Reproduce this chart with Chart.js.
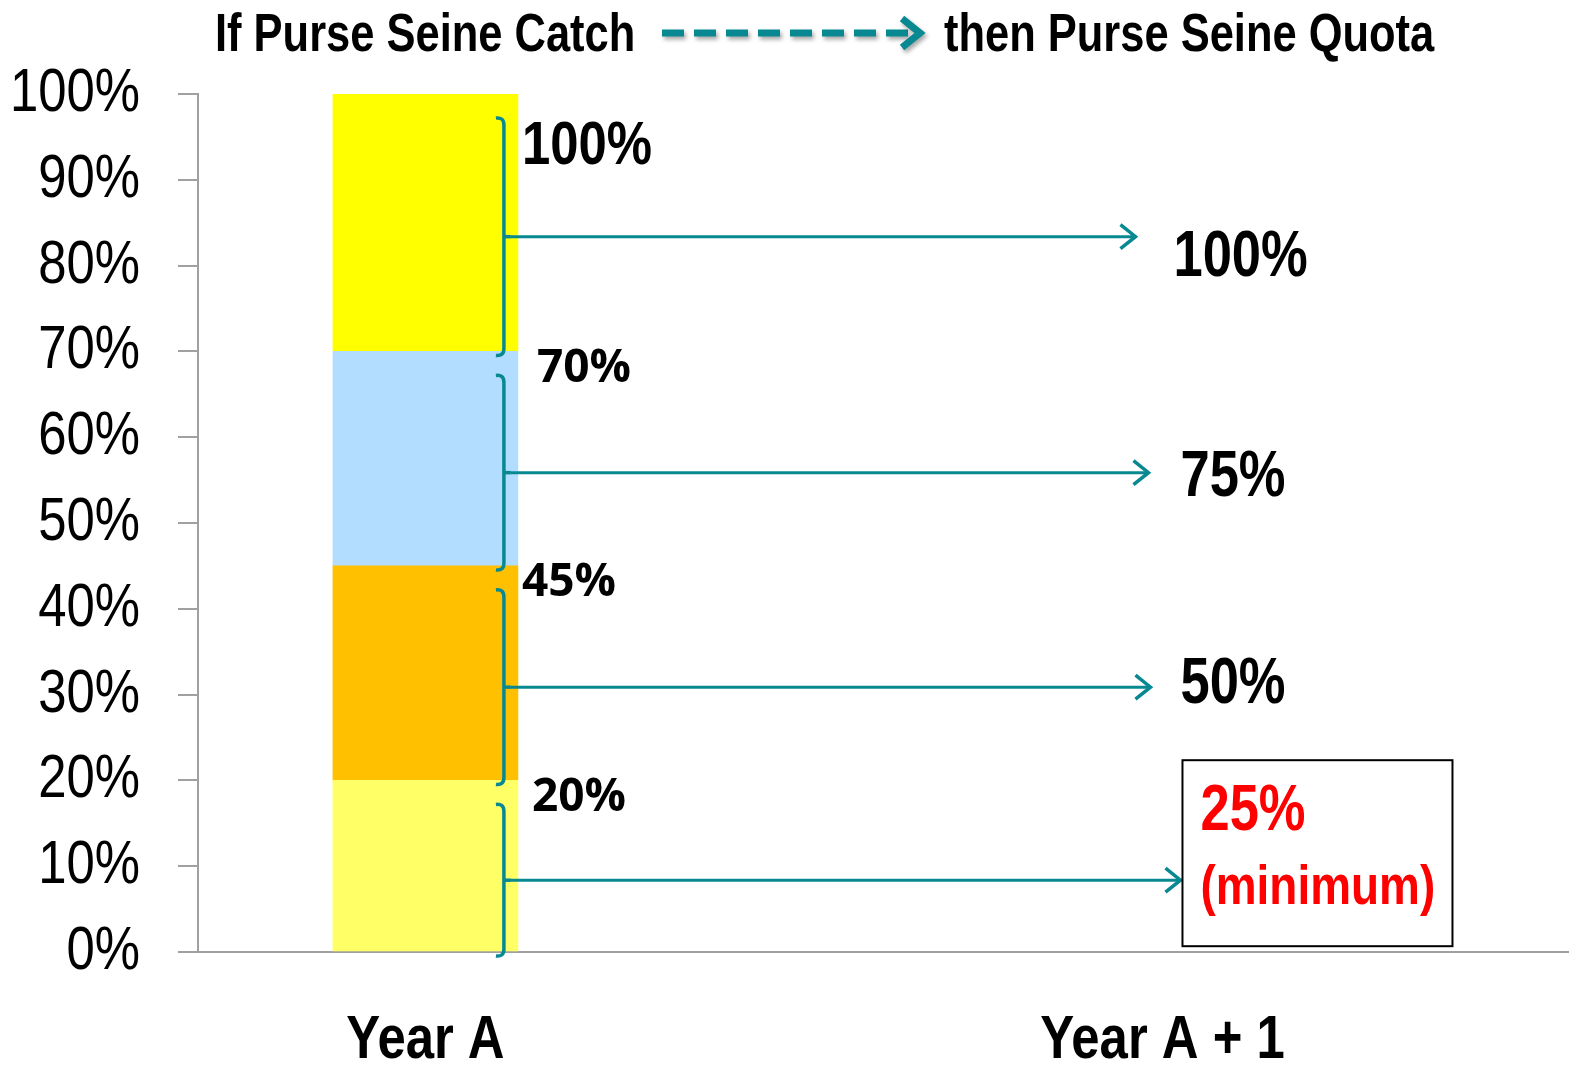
<!DOCTYPE html>
<html>
<head>
<meta charset="utf-8">
<title>Purse Seine Catch and Quota</title>
<script src="https://cdn.jsdelivr.net/npm/chart.js@4.4.1/dist/chart.umd.min.js"></script>
<style>
  html, body { margin: 0; padding: 0; background: #fff; }
  #wrap { width: 1572px; height: 1066px; }
</style>
</head>
<body>
<div id="wrap"><canvas id="quotaChart"></canvas></div>
<script>
const categories = ["Year A", "Year A + 1"];
const categoryPos = [16.6, 70.4];          // place of each category on the 0-100 x axis
const catchBands = [20, 25, 25, 30];       // catch bands, bottom to top (sum 100%)
const bandColors = ["#FFFF66", "#FFC000", "#B3DDFF", "#FFFF00"];
const catchLabels = ["20%", "45%", "70%", "100%"];
const quotaLabels = ["25%", "50%", "75%", "100%"];
const minimumNote = "(minimum)";
const titleLeft = "If Purse Seine Catch";
const titleRight = "then Purse Seine Quota";

const teal = "#088992";
const narrow = "'Liberation Sans', Arial, sans-serif";

// band edges [lo, hi] from the stacked values
let acc = 0;
const bandEdges = catchBands.map(v => [acc, acc += v]);

// no Arial Narrow here: squeeze Liberation Sans text to the narrow width
const canvas = document.getElementById("quotaChart");
const ctx2d = canvas.getContext("2d");
const plainFillText = ctx2d.fillText;
ctx2d.fillText = function (text, x, y, maxWidth) {
  if (!this.font.includes("Liberation Sans")) return plainFillText.call(this, text, x, y, maxWidth);
  this.save();
  this.translate(x, y);
  this.scale(0.82, 1);
  plainFillText.call(this, text, 0, 0);
  this.restore();
};

function drawChevron(ctx, tx, ty, size) {
  ctx.beginPath();
  ctx.moveTo(tx - size, ty - size * 0.8);
  ctx.lineTo(tx, ty);
  ctx.lineTo(tx - size, ty + size * 0.8);
  ctx.stroke();
}

function drawBracket(ctx, bx, top, bot) {
  const mid = (top + bot) / 2;
  ctx.beginPath();
  ctx.moveTo(bx - 8, top);
  ctx.quadraticCurveTo(bx, top - 1, bx, top + 7);
  ctx.lineTo(bx, bot - 7);
  ctx.quadraticCurveTo(bx, bot + 1, bx - 8, bot);
  ctx.stroke();
  ctx.beginPath();
  ctx.moveTo(bx, mid);
  ctx.lineTo(bx + 7, mid);
  ctx.stroke();
  return mid;
}

const annotations = {
  id: "catchToQuota",
  afterDraw(chart) {
    const { ctx, scales: { x, y } } = chart;
    const bar = chart.getDatasetMeta(0).data[0];
    const barRight = bar.x + bar.width / 2;
    const bx = barRight - 14;
    const qx = x.getPixelForValue(categoryPos[1]);

    ctx.save();
    // heading with the dashed arrow
    ctx.fillStyle = "#000";
    ctx.font = "bold 53px " + narrow;
    ctx.textAlign = "left";
    ctx.textBaseline = "alphabetic";
    ctx.fillText(titleLeft, 215, 51);
    ctx.fillText(titleRight, 944, 51);
    ctx.shadowColor = "rgba(0,0,0,0.35)";
    ctx.shadowOffsetX = 2;
    ctx.shadowOffsetY = 3;
    ctx.shadowBlur = 4;
    ctx.strokeStyle = teal;
    ctx.lineWidth = 7;
    ctx.setLineDash([22, 10]);
    ctx.beginPath();
    ctx.moveTo(662, 33);
    ctx.lineTo(910, 33);
    ctx.stroke();
    ctx.setLineDash([]);
    drawChevron(ctx, 920, 33, 18);
    ctx.restore();

    // brackets, arrows and labels
    const tipDx = [18, -12, -14, -27];
    const quotaDy = [0, -2, 6, 22];
    const quotaDx = [0, 18, 18, 11];
    const catchDx = [14, 4, 19, 4];
    ctx.save();
    ctx.strokeStyle = teal;
    ctx.lineCap = "butt";
    bandEdges.forEach(([lo, hi], i) => {
      const top = y.getPixelForValue(hi) + 24;
      const bot = y.getPixelForValue(lo) + 4;
      ctx.lineWidth = 3.5;
      const ay = drawBracket(ctx, bx, top, bot);
      const tip = qx + tipDx[i];
      ctx.lineWidth = 3;
      ctx.beginPath();
      ctx.moveTo(bx + 7, ay);
      ctx.lineTo(tip, ay);
      ctx.stroke();
      ctx.lineWidth = 3.5;
      drawChevron(ctx, tip, ay, 15);

      // catch threshold label
      ctx.fillStyle = "#000";
      ctx.textAlign = "left";
      ctx.textBaseline = "middle";
      if (i === bandEdges.length - 1) {
        ctx.font = "bold 62px " + narrow;
        ctx.fillText(catchLabels[i], barRight + catchDx[i], y.getPixelForValue(hi) + 53);
      } else {
        ctx.font = "bold 46px 'Open Sans', sans-serif";
        ctx.fillText(catchLabels[i], barRight + catchDx[i], y.getPixelForValue(hi) + 17);
      }

      // quota label
      if (i === 0) {
        const left = tip + 2, right = left + 270;
        const boxTop = ay - 120, boxBot = ay + 66;
        ctx.save();
        ctx.strokeStyle = "#000";
        ctx.lineWidth = 2;
        ctx.strokeRect(left, boxTop, right - left, boxBot - boxTop);
        ctx.fillStyle = "#FF0000";
        ctx.font = "bold 64px " + narrow;
        ctx.fillText(quotaLabels[i], left + 18, ay - 68);
        ctx.font = "bold 56px " + narrow;
        ctx.fillText(minimumNote, left + 18, ay + 8);
        ctx.restore();
      } else {
        ctx.font = "bold 64px " + narrow;
        ctx.fillText(quotaLabels[i], qx + quotaDx[i], ay + quotaDy[i]);
      }
    });
    ctx.restore();
  }
};

const datasets = catchBands.map((v, i) => ({
  label: catchLabels[i],
  data: [{ x: categoryPos[0], y: v }],
  backgroundColor: bandColors[i],
  borderWidth: 0,
  barThickness: 185
}));

Chart.defaults.font.family = narrow;
Chart.defaults.color = "#000";

new Chart(canvas, {
  type: "bar",
  data: { datasets: datasets },
  options: {
    responsive: true,
    maintainAspectRatio: false,
    animation: false,
    layout: { padding: { top: 94, right: 4, left: 0, bottom: 0 } },
    plugins: {
      legend: { display: false },
      tooltip: { enabled: false }
    },
    scales: {
      x: {
        type: "linear",
        stacked: true,
        offset: false,
        min: 0,
        max: 100,
        afterBuildTicks: scale => {
          scale.ticks = categoryPos.map(v => ({ value: v }));
        },
        afterFit: scale => { scale.height = 114; },
        ticks: {
          autoSkip: false,
          maxRotation: 0,
          padding: 52,
          font: { size: 62, weight: "bold" },
          callback: (v, i) => categories[i]
        },
        grid: { offset: false, drawOnChartArea: false, drawTicks: false },
        border: { color: "#a0a0a0", width: 2 }
      },
      y: {
        stacked: true,
        min: 0,
        max: 100,
        afterFit: scale => { scale.width = 198; },
        ticks: {
          stepSize: 10,
          padding: 38,
          font: { size: 62 },
          callback: v => v + "%"
        },
        grid: {
          drawOnChartArea: false,
          drawTicks: true,
          tickLength: 20,
          color: "#a0a0a0",
          lineWidth: 2
        },
        border: { color: "#a0a0a0", width: 2 }
      }
    }
  },
  plugins: [annotations]
});
</script>
</body>
</html>
